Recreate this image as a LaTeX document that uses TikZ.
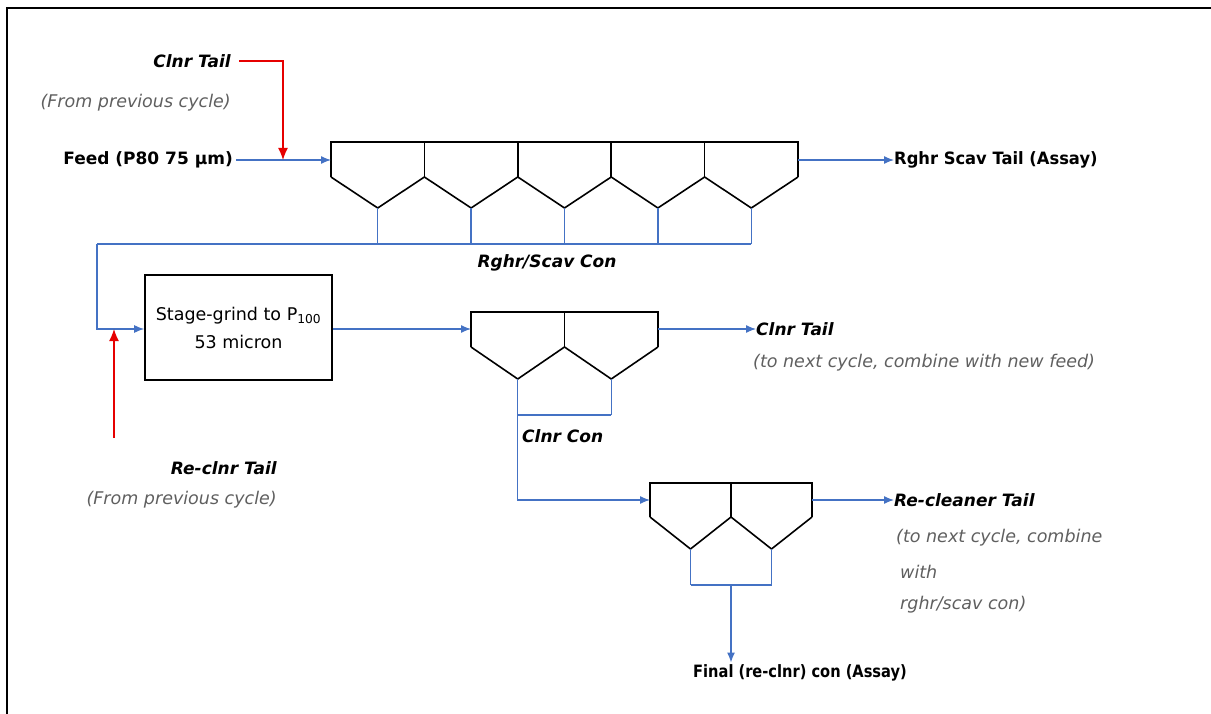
\documentclass[tikz,border=0pt]{standalone}
\usepackage{fontspec}
\setmainfont{DejaVu Sans}
\usetikzlibrary{arrows.meta}
\definecolor{flowblue}{RGB}{68,114,196}
\definecolor{flowred}{RGB}{230,0,0}
\definecolor{notegray}{RGB}{95,95,95}
\begin{document}
\begin{tikzpicture}[x=1pt,y=-1pt,
  txt/.style={inner sep=0pt,font=\fontsize{17}{20}\selectfont},
  bold/.style={txt,font=\fontsize{17}{20}\selectfont\bfseries},
  bolditalic/.style={txt,font=\fontsize{17}{20}\selectfont\bfseries\itshape},
  note/.style={txt,text=notegray,font=\fontsize{17.5}{20}\selectfont\itshape},
  cellline/.style={draw=black,line width=1.6pt,line join=miter},
  flow/.style={draw=flowblue,line width=1.3pt},
  flowarrow/.style={flow,-{Latex[length=10pt,width=8pt]}},
  redarrow/.style={draw=flowred,line width=1.4pt,-{Latex[length=12pt,width=10pt]}},
  boxstyle/.style={draw=black,line width=1.6pt,inner sep=0pt,minimum width=187pt,minimum height=105pt,align=center,font=\fontsize{17.5}{28}\selectfont}
]
\useasboundingbox (0,0) rectangle (1211,714);
% frame
\draw[line width=2.6pt] (7,714) -- (7,8) -- (1211,8);

% ---------- rougher / scavenger bank (5 cells)
\foreach \i in {0,...,4}{
  \pgfmathsetmacro{\xa}{331+93.4*\i}
  \pgfmathsetmacro{\xb}{331+93.4*(\i+1)}
  \pgfmathsetmacro{\xm}{331+93.4*(\i+0.5)}
  \draw[cellline] (\xa,177) -- (\xa,142) -- (\xb,142) -- (\xb,177);
  \draw[cellline] (\xa,177) -- (\xm,208) -- (\xb,177);
  \coordinate (rv\i) at (\xm,208);
  \coordinate (rc\i) at (\xm,244);
  \draw[flow] (rv\i) -- (rc\i);
}
\coordinate (rin) at (331,160);
\coordinate (rout) at (798,160);

% ---------- cleaner bank (2 cells)
\foreach \i in {0,1}{
  \pgfmathsetmacro{\xa}{471+93.5*\i}
  \pgfmathsetmacro{\xb}{471+93.5*(\i+1)}
  \pgfmathsetmacro{\xm}{471+93.5*(\i+0.5)}
  \draw[cellline] (\xa,347) -- (\xa,312) -- (\xb,312) -- (\xb,347);
  \draw[cellline] (\xa,347) -- (\xm,379) -- (\xb,347);
  \coordinate (cv\i) at (\xm,379);
  \coordinate (cc\i) at (\xm,415);
  \draw[flow] (cv\i) -- (cc\i);
}
\coordinate (cin) at (471,329);
\coordinate (cout) at (658,329);

% ---------- re-cleaner bank (2 cells)
\foreach \i in {0,1}{
  \pgfmathsetmacro{\xa}{650+81*\i}
  \pgfmathsetmacro{\xb}{650+81*(\i+1)}
  \pgfmathsetmacro{\xm}{650+81*(\i+0.5)}
  \draw[cellline] (\xa,517) -- (\xa,483) -- (\xb,483) -- (\xb,517);
  \draw[cellline] (\xa,517) -- (\xm,549) -- (\xb,517);
  \coordinate (ev\i) at (\xm,549);
  \coordinate (ec\i) at (\xm,585);
  \draw[flow] (ev\i) -- (ec\i);
}
\coordinate (ein) at (650,500);
\coordinate (eout) at (812,500);
\coordinate (emid) at (731,585);

% ---------- labels
\node[bolditalic,anchor=east] (clnrtailA) at (231,61) {Clnr Tail};
\node[note,anchor=east] (prevA) at (231,103) {(From previous cycle)};
\node[bold,anchor=east] (feed) at (233,160) {Feed (P80 75 µm)};
\node[bold,anchor=west] (rstail) at (894,160) {\scalebox{0.96}[1]{Rghr Scav Tail (Assay)}};
\node[bolditalic] (rscon) at (547,263) {Rghr/Scav Con};
\node[boxstyle] (grind) at (238.5,327.5) {Stage-grind to P\textsubscript{100}\\53 micron};
\node[bolditalic,anchor=east] (reclnrA) at (277,468) {Re-clnr Tail};
\node[note,anchor=east] (prevB) at (277,500) {(From previous cycle)};
\node[bolditalic,anchor=west] (clnrcon) at (522,436) {Clnr Con};
\node[bolditalic,anchor=west] (clnrtailB) at (756,329) {Clnr Tail};
\node[note,anchor=west] (clnrnote) at (753,363) {(to next cycle, combine with new feed)};
\node[bolditalic,anchor=west] (recltail) at (894,500) {Re-cleaner Tail};
\node[note,anchor=west] (reclnoteA) at (896,538) {(to next cycle, combine};
\node[note,anchor=west] (reclnoteB) at (900,572) {with};
\node[note,anchor=west] (reclnoteC) at (900,605) {rghr/scav con)};
\node[bold] (final) at (800,673) {\scalebox{0.86}[1]{Final (re-clnr) con (Assay)}};

% ---------- connectors
\coordinate (redA) at (283,160);
\draw[flowarrow] (feed.east) ++(3,0) -- (rin);
\draw[redarrow] (clnrtailA.east) ++(8,0) -| (redA);
\draw[flowarrow] (rout) -- (rstail.west);
\coordinate (conleft) at (97,244);
\coordinate (grindin) at (97,329);
\draw[flow] (rc4) -- (conleft);
\draw[flowarrow] (conleft) -- (grindin) -- (grind.west |- grindin);
\coordinate (redBstart) at (114,438);
\draw[redarrow] (redBstart) -- (114,329);
\draw[flowarrow] (grind.east |- cin) -- (cin);
\draw[flowarrow] (cout) -- (clnrtailB.west);
\draw[flow] (cc1) -- (cc0);
\draw[flowarrow] (cc0) -- (cc0 |- ein) -- (ein);
\draw[flowarrow] (eout) -- (recltail.west);
\draw[flow] (ec1) -- (ec0);
\draw[flowarrow,shorten >=2pt] (emid) -- (emid |- final.north);
\end{tikzpicture}
\end{document}
